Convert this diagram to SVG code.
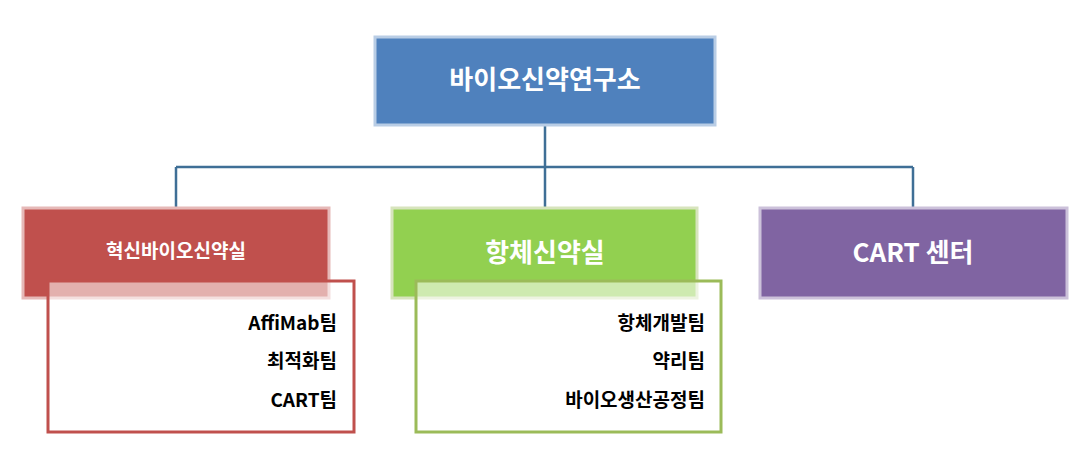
<svg xmlns="http://www.w3.org/2000/svg" width="1091" height="467" viewBox="0 0 1091 467">
<style>
.box{stroke-width:3}
.t{font-family:"Noto Sans CJK KR","Noto Sans",sans-serif;font-weight:bold;fill:#fff;text-anchor:middle}
.s{font-family:"Noto Sans CJK KR","Noto Sans",sans-serif;font-weight:bold;fill:#000;text-anchor:end;font-size:19px}
</style>
<rect width="1091" height="467" fill="#fff"/>
<g id="connectors" fill="none" stroke="#3f6f96" stroke-width="2.5">
<path d="M545 125V167M176 167H913M176 167V208M545 167V208M913 167V208"/>
</g>
<g id="root"><rect class="box" x="375" y="37" width="340" height="88" fill="#4f81bd" stroke="#b9cde5"/><text class="t" x="545" y="89" font-size="26">바이오신약연구소</text></g>
<g id="red"><rect class="box" x="23" y="208" width="306" height="90" fill="#c0504d" stroke="#e6b9b8"/><text class="t" x="176" y="258" font-size="19">혁신바이오신약실</text></g>
<g id="red-sub"><rect x="48" y="281" width="306" height="151" fill="#fff" fill-opacity="0.55" stroke="#c0504d" stroke-width="3"/>
<text class="s" x="337" y="330">AffiMab팀</text><text class="s" x="337" y="368">최적화팀</text><text class="s" x="337" y="407">CART팀</text></g>
<g id="green"><rect class="box" x="392" y="208" width="305" height="90" fill="#92d050" stroke="#d7e4bd"/><text class="t" x="545" y="262" font-size="26">항체신약실</text></g>
<g id="green-sub"><rect x="416" y="281" width="305" height="151" fill="#fff" fill-opacity="0.55" stroke="#9bbb59" stroke-width="3"/>
<text class="s" x="705" y="330">항체개발팀</text><text class="s" x="705" y="368">약리팀</text><text class="s" x="705" y="407">바이오생산공정팀</text></g>
<g id="purple"><rect class="box" x="760" y="208" width="307" height="90" fill="#8064a2" stroke="#ccc1da"/><text class="t" x="913" y="262" font-size="26">CART 센터</text></g>
</svg>
